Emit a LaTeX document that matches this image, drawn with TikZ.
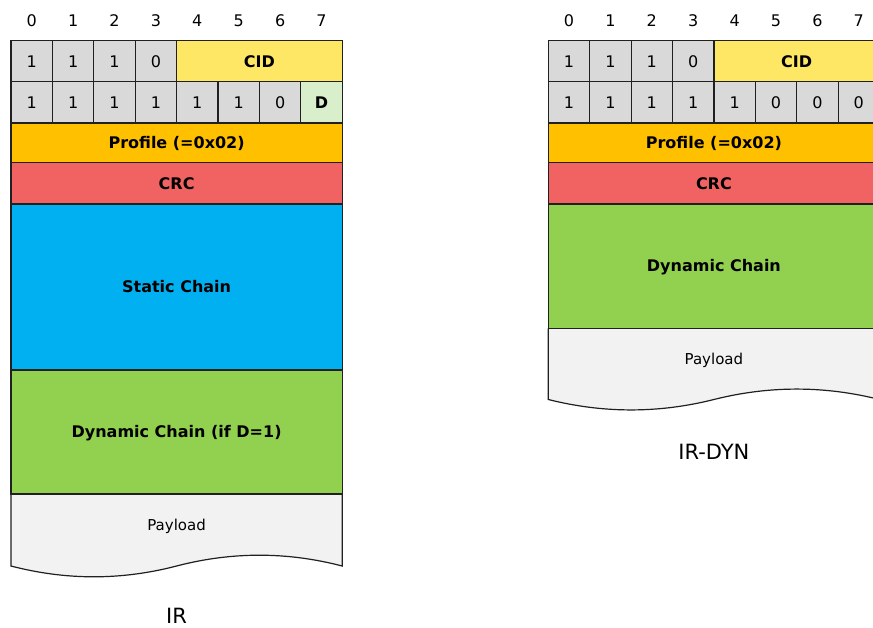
\documentclass[tikz,border=0pt]{standalone}
\usepackage{fontspec}
\setmainfont{DejaVu Sans}
\definecolor{cellgray}{HTML}{D9D9D9}
\definecolor{cidyellow}{HTML}{FFE766}
\definecolor{dgreen}{HTML}{D9EFCB}
\definecolor{profileorange}{HTML}{FFC000}
\definecolor{crcred}{HTML}{F16262}
\definecolor{staticblue}{HTML}{00B0F0}
\definecolor{dyngreen}{HTML}{92D050}
\definecolor{payloadgray}{HTML}{F2F2F2}
\definecolor{edgecol}{HTML}{202020}
\tikzset{
  fld/.style={anchor=north west, inner sep=0pt, outer sep=0pt,
    text height=11.6pt, text depth=0pt, font=\fontsize{16}{16}\selectfont},
  bitcell/.style={fld, fill=cellgray, minimum width=41.4pt, minimum height=41.1pt},
  boldfld/.style={fld, font=\fontsize{16}{16}\selectfont\bfseries},
  bitlbl/.style={anchor=base, inner sep=0pt, font=\fontsize{16}{16}\selectfont},
  plabel/.style={inner sep=0pt, text height=11.2pt, text depth=0pt, font=\fontsize{15}{15}\selectfont},
  caption/.style={anchor=base, inner sep=0pt, font=\fontsize{21}{21}\selectfont},
  outline/.style={draw=edgecol, line width=1.2pt},
}
\begin{document}
\begin{tikzpicture}[x=1pt,y=-1pt]
\useasboundingbox (0,0) rectangle (873,627);
\clip (0,0) rectangle (873,627);

% payload backgrounds first
\fill[payloadgray] (11,494) -- (11,566) .. controls (66.2,580.4) and (121.4,580.4) .. (176.6,566)
  .. controls (231.8,551.6) and (287,551.6) .. (342.2,566) -- (342.2,494) -- cycle;
\fill[payloadgray] (548.3,328.3) -- (548.3,399.5) .. controls (603.5,413.4) and (658.7,413.4) .. (713.9,399.5)
  .. controls (769.1,385.6) and (824.3,385.6) .. (879.5,399.5) -- (879.5,328.3) -- cycle;

% ---------------- IR (left) ----------------
\foreach \i in {0,...,7} \node[bitlbl] (Lbit\i) at (31.7+41.4*\i, 26) {\i};
\foreach \i/\b in {0/1,1/1,2/1,3/0}
  \node[bitcell] (La\i) at (11+41.4*\i, 40.7) {\b};
\node[boldfld, fill=cidyellow, minimum width=165.6pt, minimum height=41.1pt] (Lcid) at (176.6,40.7) {CID};
\foreach \i/\b in {0/1,1/1,2/1,3/1,4/1,5/1,6/0}
  \node[bitcell] (Lb\i) at (11+41.4*\i, 81.8) {\b};
\node[boldfld, fill=dgreen, minimum width=41.4pt, minimum height=41.1pt] (LD) at (300.8,81.8) {D};
\node[boldfld, fill=profileorange, minimum width=331.2pt, minimum height=39.6pt] (Lprof) at (11,122.9) {Profile (=0x02)};
\node[boldfld, fill=crcred, minimum width=331.2pt, minimum height=41.5pt] (Lcrc) at (11,162.5) {CRC};
\node[boldfld, fill=staticblue, minimum width=331.2pt, minimum height=166pt] (Lstat) at (11,204) {Static Chain};
\node[boldfld, fill=dyngreen, minimum width=331.2pt, minimum height=124pt] (Ldyn) at (11,370) {Dynamic Chain (if D=1)};
\node[plabel] (Lpay) at (176.6,525) {Payload};
\node[caption] (Lcap) at (176.6,623.3) {IR};

% ---------------- IR-DYN (right) ----------------
\foreach \i in {0,...,7} \node[bitlbl] (Rbit\i) at (569+41.4*\i, 26) {\i};
\foreach \i/\b in {0/1,1/1,2/1,3/0}
  \node[bitcell] (Ra\i) at (548.3+41.4*\i, 40.7) {\b};
\node[boldfld, fill=cidyellow, minimum width=165.6pt, minimum height=41.1pt] (Rcid) at (713.9,40.7) {CID};
\foreach \i/\b in {0/1,1/1,2/1,3/1,4/1,5/0,6/0,7/0}
  \node[bitcell] (Rb\i) at (548.3+41.4*\i, 81.8) {\b};
\node[boldfld, fill=profileorange, minimum width=331.2pt, minimum height=39.6pt] (Rprof) at (548.3,122.9) {Profile (=0x02)};
\node[boldfld, fill=crcred, minimum width=331.2pt, minimum height=41.5pt] (Rcrc) at (548.3,162.5) {CRC};
\node[boldfld, fill=dyngreen, minimum width=331.2pt, minimum height=124.3pt] (Rdyn) at (548.3,204) {Dynamic Chain};
\node[plabel] (Rpay) at (713.9,359) {Payload};
\node[caption] (Rcap) at (713.9,459.3) {IR-DYN};

% ---------------- borders, drawn over all fills ----------------
\foreach \n in {La0,La1,La2,La3,Lcid,Lb0,Lb1,Lb2,Lb3,Lb4,Lb5,Lb6,LD,Lprof,Lcrc,Lstat,Ldyn,
                Ra0,Ra1,Ra2,Ra3,Rcid,Rb0,Rb1,Rb2,Rb3,Rb4,Rb5,Rb6,Rb7,Rprof,Rcrc,Rdyn}
  \draw[outline] (\n.north west) rectangle (\n.south east);
\draw[outline] (Ldyn.south west) -- (11,566) .. controls (66.2,580.4) and (121.4,580.4) .. (176.6,566)
  .. controls (231.8,551.6) and (287,551.6) .. (342.2,566) -- (Ldyn.south east);
\draw[outline] (Rdyn.south west) -- (548.3,399.5) .. controls (603.5,413.4) and (658.7,413.4) .. (713.9,399.5)
  .. controls (769.1,385.6) and (824.3,385.6) .. (879.5,399.5) -- (Rdyn.south east);
\end{tikzpicture}
\end{document}
